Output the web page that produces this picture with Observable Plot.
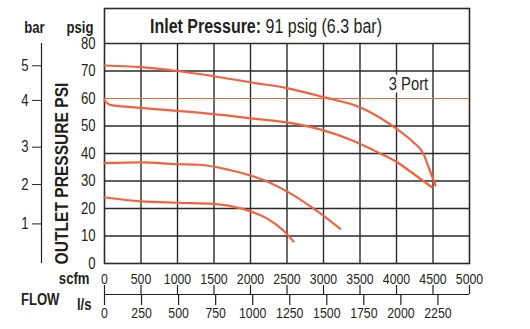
<!DOCTYPE html>
<html><head><meta charset="utf-8">
<script src="https://cdn.jsdelivr.net/npm/d3@7"></script>
<script src="https://cdn.jsdelivr.net/npm/@observablehq/plot@0.6"></script>
<style>
body{margin:0;background:#fff;}
#wrap{position:relative;width:530px;height:329px;font-family:"Liberation Sans",Arial,sans-serif;color:#231f20;}
#title{position:absolute;left:150px;top:16.5px;font-size:19.5px;line-height:1;white-space:nowrap;transform:scaleX(0.82);transform-origin:0 0;}
#title b{font-weight:bold;}
</style></head><body><div id="wrap"><div id="title"><b>Inlet Pressure:</b> 91 psig (6.3 bar)</div></div>
<script>
// ---- data ----
const scfmTicks = [0, 500, 1000, 1500, 2000, 2500, 3000, 3500, 4000, 4500, 5000];
const lsTicks = [0, 250, 500, 750, 1000, 1250, 1500, 1750, 2000, 2250];
const lsToScfm = 2.03;            // scale relation of the l/s axis as drawn
const psigTicks = [0, 10, 20, 30, 40, 50, 60, 70, 80];
const barTicks = [1, 2, 3, 4, 5];
const barAtPsig = [14.4, 28.7, 42.3, 59.3, 71.9];
const portPressure = 60;
const portLabel = "3 Port";

const curveA = [[0,72],[500,71.4],[1000,70],[1500,68.1],[2000,65.9],[2500,63.8],[3000,60.5],[3500,56.8],[3620,55.3],[4000,49],[4230,44.1],[4370,39.9],[4440,35],[4535,28.4]];
const curveB = [[0,59.3],[80,57.7],[500,56.6],[1000,55.5],[1500,54.3],[2000,52.8],[2500,51.3],[3000,48.4],[3370,45],[3740,40.5],[4010,36.8],[4160,34],[4480,27.8]];
const curveC = [[0,36.5],[500,36.8],[1000,36.1],[1300,35.9],[1700,34.1],[2000,32],[2180,30.4],[2480,26.5],[2900,19.3],[3230,12.6]];
const curveD = [[0,24],[500,22.6],[1000,22.1],[1500,21.7],[1900,19.8],[2230,16.3],[2450,12],[2590,8]];

const rows = [];
[curveA, curveB, curveC, curveD].forEach((c, k) => c.forEach(([f, p]) => rows.push({series: k, flow: f, psig: p})));

const red = "#f4623d";
const ink = "#231f20";
const grid = "#2a2a2a";
const font = '"Liberation Sans",Arial,sans-serif';
const squeeze = 0.82;   // condensed look of the original typeface

const label = (t, o) => Plot.text([t], {text: d => d, fontWeight: "bold", fontSize: 16, fill: ink, lineAnchor: "middle", ...o});

const chart = Plot.plot({
  width: 530, height: 329,
  marginLeft: 104, marginRight: 61, marginTop: 8, marginBottom: 66,
  style: {fontFamily: font, fontSize: "15px", color: ink, background: "white", overflow: "visible"},
  x: {domain: [0, 5000], axis: null, label: null},
  y: {domain: [0, 80 + 35 / 2.75], axis: null, label: null},
  marks: [
    Plot.ruleY(psigTicks.filter(d => d !== portPressure && d !== 0), {stroke: grid, strokeWidth: 1.4}),
    Plot.ruleX(scfmTicks.slice(1, -1), {y1: 0, y2: 80, stroke: grid, strokeWidth: 1.4}),
    Plot.frame({stroke: grid, strokeWidth: 1.6}),
    Plot.ruleY([portPressure], {stroke: red, strokeWidth: 1.2}),
    Plot.text([portLabel], {x: () => 5000, y: () => portPressure, dx: -61, dy: -14, text: d => d,
      fontSize: 18, fill: ink, stroke: "white", strokeWidth: 7, paintOrder: "stroke"}),
    Plot.line(rows, {x: "flow", y: "psig", z: "series", stroke: red, strokeWidth: 2.2, curve: "monotone-x"}),
    // psig axis
    Plot.axisY(psigTicks, {anchor: "left", tickSize: 0, tickPadding: 9, fontSize: 16, fill: ink, tickFormat: d => String(d), label: null}),
    // bar axis
    Plot.ruleX([0], {y1: 0, y2: 80, dx: -63, stroke: ink, strokeWidth: 1.2}),
    Plot.axisY(barAtPsig, {anchor: "left", dx: -63, tickSize: 9, tickPadding: 4, fontSize: 16, fill: ink, stroke: ink,
      tickFormat: d => String(barTicks[barAtPsig.indexOf(d)]), label: null}),
    // scfm axis
    Plot.axisX(scfmTicks, {anchor: "bottom", tickSize: 0, tickPadding: 10, fontSize: 15, fill: ink, tickFormat: d => String(d), label: null}),
    Plot.axisX(scfmTicks, {anchor: "bottom", tickSize: 9, dy: 22, fill: "none", stroke: ink, strokeWidth: 1.2, label: null}),
    Plot.ruleY([0], {dy: 31, stroke: ink, strokeWidth: 1.2}),
    // l/s axis
    Plot.axisX(lsTicks.map(v => v * lsToScfm), {anchor: "bottom", tickSize: 11, dy: 31, fill: "none", stroke: ink, strokeWidth: 1.2, label: null}),
    Plot.axisX(lsTicks.map(v => v * lsToScfm), {anchor: "bottom", tickSize: 0, tickPadding: 44, fontSize: 15, fill: ink,
      tickFormat: d => String(lsTicks[Math.round(d / lsToScfm / 250)]), label: null}),
    // titles
    label("bar", {frameAnchor: "top-left", textAnchor: "middle", dx: -70, dy: 19}),
    label("psig", {frameAnchor: "top-left", textAnchor: "end", dx: -11, dy: 19}),
    label("OUTLET PRESSURE PSI", {frameAnchor: "left", textAnchor: "middle", rotate: -90, dx: -42.5, dy: 37.5, fontSize: 19}),
    label("scfm", {frameAnchor: "bottom-left", textAnchor: "end", dx: -15, dy: 15}),
    label("FLOW", {frameAnchor: "bottom-left", textAnchor: "end", dx: -45, dy: 36}),
    label("l/s", {frameAnchor: "bottom-left", textAnchor: "end", dx: -13, dy: 41.5})
  ]
});
chart.style.position = "absolute";
chart.style.left = "0";
chart.style.top = "0";
const wrap = document.getElementById("wrap");
wrap.insertBefore(chart, wrap.firstChild);
// narrow the typeface horizontally, as in the original
d3.select(chart).selectAll("text").each(function () {
  const len = this.getComputedTextLength();
  if (len > 0) {
    this.setAttribute("textLength", len * squeeze);
    this.setAttribute("lengthAdjust", "spacingAndGlyphs");
  }
});
</script>
</body></html>
